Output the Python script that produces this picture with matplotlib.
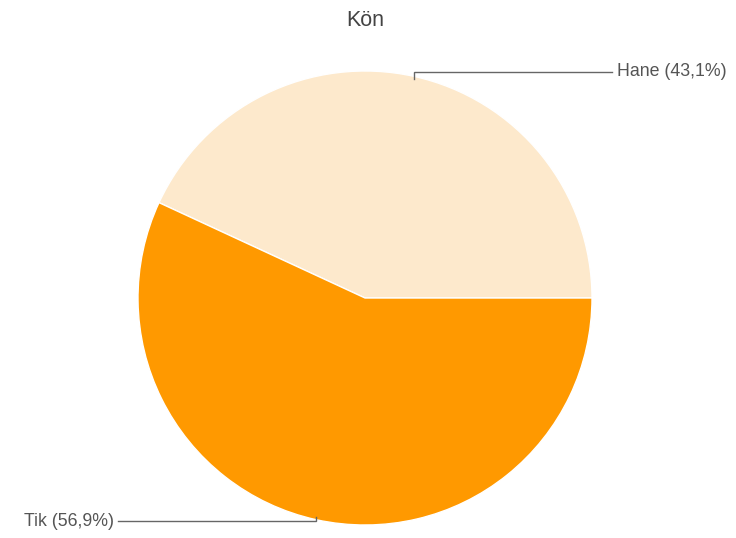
import numpy as np
import matplotlib.pyplot as plt

labels = ['Hane', 'Tik']
shares = [43.1, 56.9]
colors = ['#fde9cc', '#ff9900']
label_text = ['Hane (43,1%)', 'Tik (56,9%)']

plt.rcParams['font.family'] = ['Liberation Sans', 'DejaVu Sans']

fig = plt.figure(figsize=(7.36, 5.38), dpi=100)
ax = fig.add_axes([0, 0, 1, 1])

cx, cy, r = 365, 240, 227
wedges, _ = ax.pie(shares, colors=colors, startangle=0, counterclock=True,
                   center=(cx, cy), radius=r, frame=True,
                   wedgeprops=dict(linewidth=1, edgecolor='white'))
ax.set_xlim(0, 736)
ax.set_ylim(0, 538)
ax.set_aspect('equal')
ax.axis('off')

# leader lines: (label y, line end x, text side)
leaders = [(466, 612, 'right'), (17, 118, 'left')]
for w, txt, (ly, lx, side) in zip(wedges, label_text, leaders):
    mid = np.deg2rad((w.theta1 + w.theta2) / 2)
    ex = cx + r * np.cos(mid)
    ey = cy + r * np.sin(mid)
    ey0 = ey - 3 if ly > cy else ey + 3
    ax.plot([ex, ex, lx], [ey0, ly, ly], color='#666666', lw=1, solid_joinstyle='miter')
    if side == 'right':
        ax.text(lx + 5, ly, txt, ha='left', va='center', fontsize=12.8, color='#555555')
    else:
        ax.text(lx - 4, ly, txt, ha='right', va='center', fontsize=12.8, color='#555555')

ax.text(365, 517, 'Kön', ha='center', va='center', fontsize=15.5, color='#444444')

fig.savefig('out.png', dpi=100)
